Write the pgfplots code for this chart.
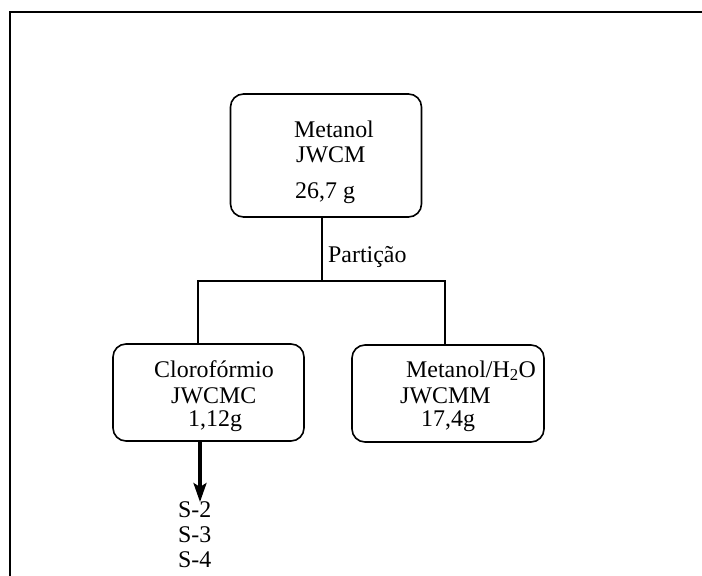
\documentclass[border=0pt]{standalone}
\usepackage{pgfplots}
\pgfplotsset{compat=1.18}
\usetikzlibrary{arrows.meta}
\usepackage{fontspec}
\setmainfont{Liberation Serif}
\begin{document}
\begin{tikzpicture}
\begin{axis}[
  width=702bp, height=576bp, scale only axis,
  xmin=0, xmax=702, ymin=0, ymax=576, y dir=reverse,
  hide axis, clip=false,
]
% frame
\addplot[black, line width=2bp, forget plot] coordinates {(9.5,576) (9.5,12.5) (702,12.5)};
% boxes
\draw[line width=1.6bp, rounded corners=13bp] (axis cs:230.5,94) rectangle (axis cs:421.5,217);
\draw[line width=1.6bp, rounded corners=13bp] (axis cs:113,344) rectangle (axis cs:304,441);
\draw[line width=1.6bp, rounded corners=13bp] (axis cs:352,345) rectangle (axis cs:544,442);
% connectors
\addplot[black, line width=1.3bp, forget plot] coordinates {(322,217) (322,281)};
\addplot[black, line width=1.3bp, forget plot] coordinates {(198,344) (198,281) (445,281) (445,345)};
% arrow
\addplot[black, line width=3.2bp, forget plot, -{Stealth[length=19bp, width=13bp, inset=4bp]}] coordinates {(200,441) (200,502)};
% texts
\fontsize{24}{26}\selectfont
\node[anchor=base west, inner sep=0pt] at (axis cs:294,137) {Metanol};
\node[anchor=base west, inner sep=0pt] at (axis cs:296,162) {JWCM};
\node[anchor=base west, inner sep=0pt] at (axis cs:295,198) {26,7 g};
\node[anchor=base west, inner sep=0pt] at (axis cs:328,262) {Partição};
\node[anchor=base west, inner sep=0pt] at (axis cs:154,377) {Clorofórmio};
\node[anchor=base west, inner sep=0pt] at (axis cs:171,403) {JWCMC};
\node[anchor=base west, inner sep=0pt] at (axis cs:188,426) {1,12g};
\node[anchor=base west, inner sep=0pt] at (axis cs:406,377) {Metanol/H\textsubscript{2}O};
\node[anchor=base west, inner sep=0pt] at (axis cs:400,403) {JWCMM};
\node[anchor=base west, inner sep=0pt] at (axis cs:421,426) {17,4g};
\node[anchor=base west, inner sep=0pt] at (axis cs:178,517) {S-2};
\node[anchor=base west, inner sep=0pt] at (axis cs:178,542) {S-3};
\node[anchor=base west, inner sep=0pt] at (axis cs:178,567) {S-4};
\end{axis}
\pgfresetboundingbox
\path[use as bounding box] (current axis.south west) rectangle (current axis.north east);
\end{tikzpicture}
\end{document}
